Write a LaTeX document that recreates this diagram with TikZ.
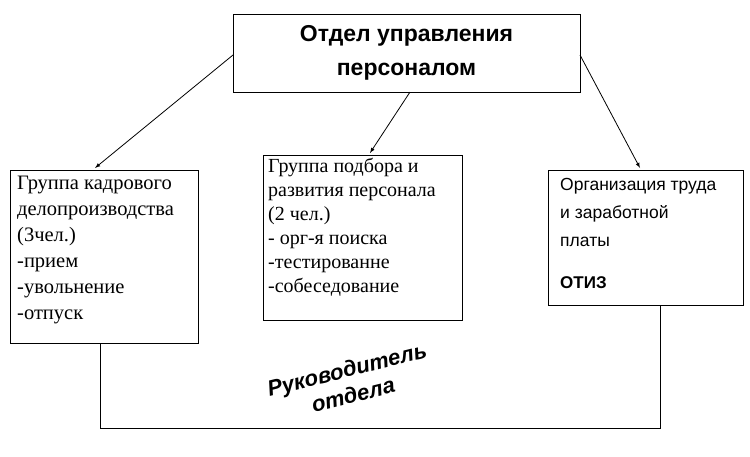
\documentclass[tikz,border=0pt]{standalone}
\usepackage{fontspec}
\setmainfont{Liberation Serif}
\newfontfamily\sansf{Liberation Sans}
\usetikzlibrary{positioning}
\begin{document}
\begin{tikzpicture}[
        x=1pt, y=-1pt,
        box/.style={draw, line width=0.8pt, inner sep=0pt},
        txt/.style={align=left, anchor=north west, inner sep=0pt},
        link/.style={draw, line width=0.8pt, -latex},
    ]
    \useasboundingbox (0,0) rectangle (750,456);
    % рамки
    \node[box, minimum width=347, minimum height=78] (otdel) at (406.5,53) {};
    \node[box, minimum width=188, minimum height=173] (kadr) at (104,256.5) {};
    \node[box, minimum width=199, minimum height=165] (podbor) at (362.5,237.5) {};
    \node[box, minimum width=195, minimum height=135] (otiz) at (645.5,237.5) {};
    % тексты
    \node[align=center, font=\sansf\bfseries\fontsize{23}{34}\selectfont] at (otdel) {Отдел управления\\персоналом};
    \node[txt, font=\fontsize{20.5}{26}\selectfont] at (17,176) {Группа кадрового\\делопроизводства\\(3чел.)\\-прием\\-увольнение\\-отпуск};
    \node[txt, font=\fontsize{20}{24}\selectfont] at (268,158) {Группа подбора и\\развития персонала\\(2 чел.)\\- орг-я поиска\\-тестированне\\-собеседование};
    \node[txt, font=\sansf\fontsize{17.5}{28}\selectfont] at (560,178) {Организация труда\\и заработной\\платы};
    \node[txt, font=\sansf\bfseries\fontsize{17}{18}\selectfont] at (560,276) {ОТИЗ};
    \node[font=\sansf\bfseries\itshape\fontsize{22}{26}\selectfont, align=center, rotate=14] (ruk) at (350,382) {Руководитель\\отдела};
    % связи
    \draw[link] (233,55) -- (95,168);
    \draw[link] (410,92) -- (370,153);
    \draw[link] (580,55) -- (640,168);
    \coordinate (bl) at (100,428);
    \coordinate (br) at (660,428);
    \draw[line width=0.8pt] (kadr.south -| bl) -- (bl) -- (br) -- (otiz.south -| br);
\end{tikzpicture}
\end{document}
